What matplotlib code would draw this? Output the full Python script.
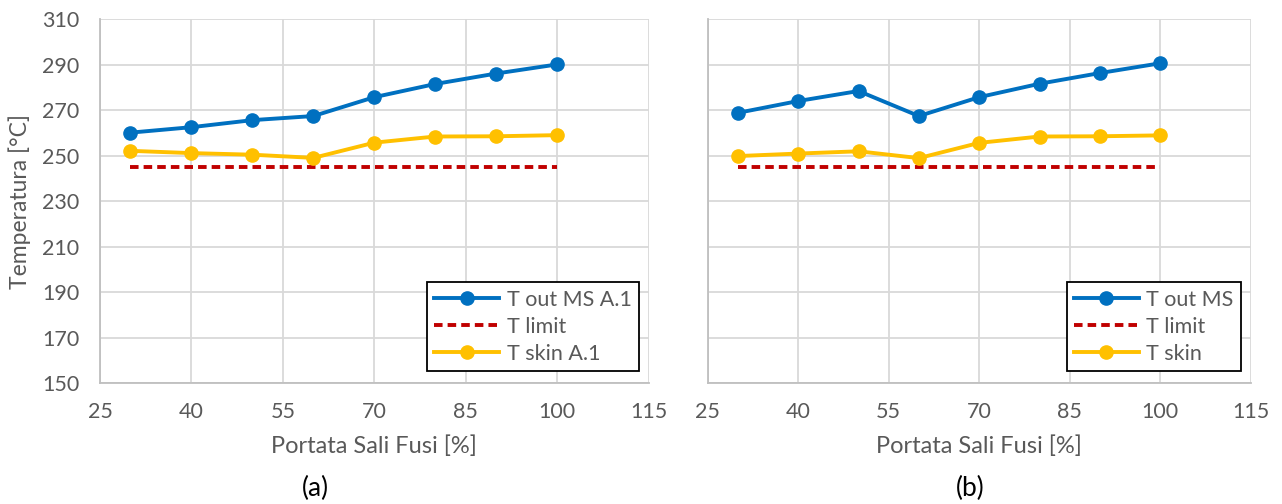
import matplotlib.pyplot as plt

plt.rcParams['font.family'] = ['Lato', 'DejaVu Sans']

# dati
portata = [30, 40, 50, 60, 70, 80, 90, 100]
t_out_a = [260.1, 262.5, 265.6, 267.4, 275.7, 281.5, 286.1, 290.1]
t_skin_a = [252.1, 251.1, 250.4, 249.0, 255.7, 258.4, 258.5, 259.0]
t_out_b = [268.8, 274.0, 278.4, 267.4, 275.7, 281.6, 286.3, 290.6]
t_skin_b = [249.8, 250.9, 251.9, 248.9, 255.6, 258.4, 258.5, 258.9]
t_limit = [245] * len(portata)

x_ticks = [25, 40, 55, 70, 85, 100, 115]
y_ticks = [150, 170, 190, 210, 230, 250, 270, 290, 310]

panels = [
    (t_out_a, t_skin_a, "T out MS A.1", "T skin A.1", "(a)"),
    (t_out_b, t_skin_b, "T out MS", "T skin", "(b)"),
]

fig = plt.figure(figsize=(12.82, 5.04), dpi=100)
axes = [fig.add_axes([0.078, 0.240, 0.428, 0.722]),
        fig.add_axes([0.552, 0.240, 0.4236, 0.722])]

tick_col = "#595959"
for i, (ax, (tout, tskin, lab_out, lab_skin, cap)) in enumerate(zip(axes, panels)):
    ax.plot(portata, tout, color="#0070C0", lw=2.8, marker="o", ms=9.5, label=lab_out, zorder=3)
    ax.plot(portata, t_limit, color="#C00000", lw=2.8, ls=(0, (2.2, 1.3)), label="T limit", zorder=3)
    ax.plot(portata, tskin, color="#FFC000", lw=2.8, marker="o", ms=9.5, label=lab_skin, zorder=3)

    ax.set_xlim(25, 115)
    ax.set_ylim(150, 310)
    ax.set_xticks(x_ticks)
    ax.set_yticks(y_ticks)
    ax.grid(True, color="#d9d9d9", lw=1.3)
    ax.set_axisbelow(True)
    for s in ["top", "right"]:
        ax.spines[s].set_visible(False)
    ax.spines["left"].set_color("#bfbfbf")
    ax.spines["bottom"].set_color("#bfbfbf")
    ax.spines["left"].set_linewidth(1.3)
    ax.spines["bottom"].set_linewidth(1.3)
    ax.tick_params(length=0, labelsize=15.5, colors=tick_col)
    ax.tick_params(axis="x", pad=14)
    ax.tick_params(axis="y", pad=15)
    if i == 1:
        ax.set_yticklabels([])
    else:
        ax.set_ylabel("Temperatura [°C]", fontsize=16.5, color=tick_col, labelpad=8)
    ax.set_xlabel("Portata Sali Fusi [%]", fontsize=17, color=tick_col, labelpad=9)

    leg = ax.legend(loc="lower right", bbox_to_anchor=(0.994, 0.015), fontsize=15.5,
                    frameon=True, fancybox=False, edgecolor="black", framealpha=1,
                    handlelength=3.0, handletextpad=0.35, labelspacing=0.32,
                    borderpad=0.35, borderaxespad=0.3)
    leg.get_frame().set_linewidth(1.3)
    for t in leg.get_texts():
        t.set_color(tick_col)

fig.text(0.246, 0.016, "(a)", fontsize=19, ha="center")
fig.text(0.757, 0.016, "(b)", fontsize=19, ha="center")

plt.savefig("out.png", dpi=100)
